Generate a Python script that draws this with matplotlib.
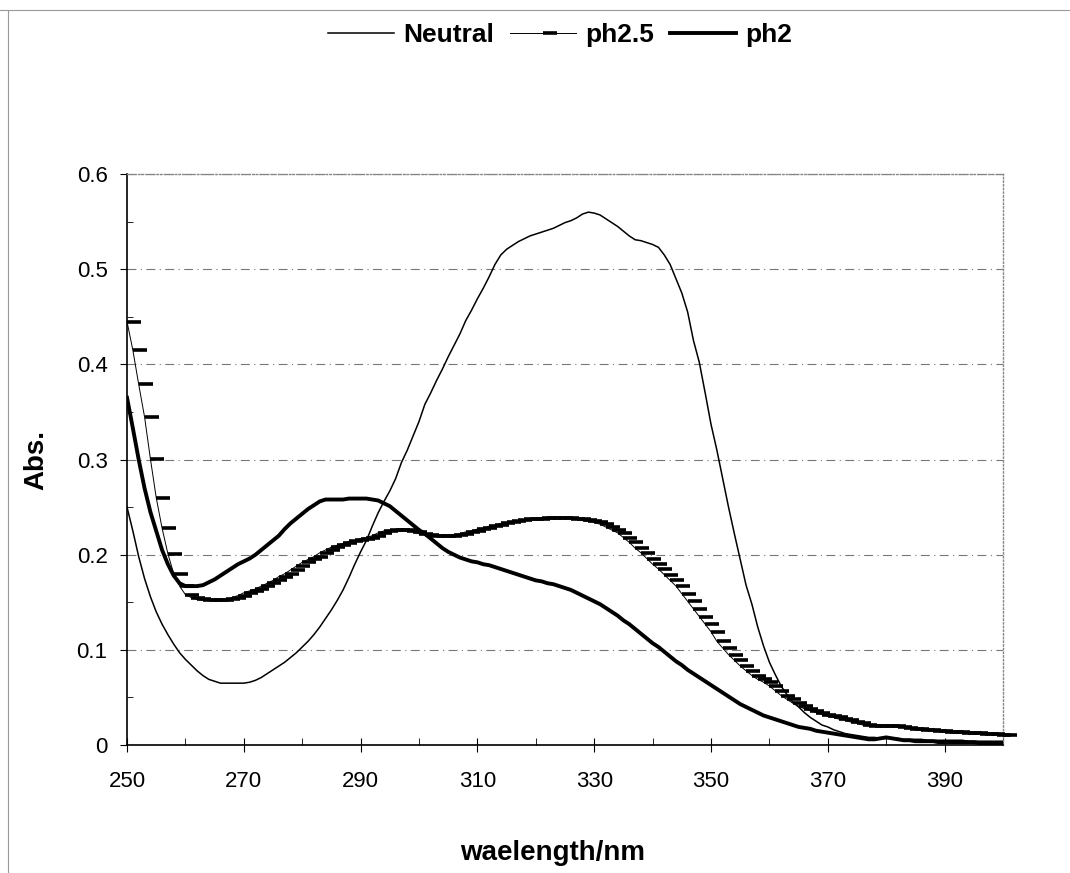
import numpy as np
import matplotlib
matplotlib.use('Agg')
import matplotlib.pyplot as plt
from matplotlib.ticker import MultipleLocator, FixedLocator
from matplotlib.lines import Line2D

plt.rcParams['font.family'] = ['Liberation Sans', 'DejaVu Sans']

# wavelength in nm, 1 nm steps
wavelength = list(range(250, 401))

neutral = [
    0.250, 0.225, 0.198, 0.175, 0.156, 0.140, 0.127, 0.116, 0.106, 0.097,  # 250-259
    0.090, 0.084, 0.078, 0.073, 0.069, 0.067, 0.065, 0.065, 0.065, 0.065,  # 260-269
    0.065, 0.066, 0.068, 0.071, 0.075, 0.079, 0.083, 0.087, 0.092, 0.097,  # 270-279
    0.103, 0.109, 0.116, 0.124, 0.133, 0.142, 0.152, 0.163, 0.176, 0.190,  # 280-289
    0.203, 0.215, 0.230, 0.244, 0.256, 0.267, 0.280, 0.297, 0.310, 0.325,  # 290-299
    0.340, 0.358, 0.370, 0.383, 0.395, 0.408, 0.420, 0.432, 0.446, 0.457,  # 300-309
    0.469, 0.480, 0.492, 0.505, 0.515, 0.521, 0.525, 0.529, 0.532, 0.535,  # 310-319
    0.537, 0.539, 0.541, 0.543, 0.546, 0.549, 0.551, 0.554, 0.558, 0.560,  # 320-329
    0.559, 0.557, 0.553, 0.549, 0.545, 0.540, 0.535, 0.531, 0.530, 0.528,  # 330-339
    0.526, 0.523, 0.515, 0.505, 0.490, 0.475, 0.455, 0.425, 0.402, 0.370,  # 340-349
    0.337, 0.310, 0.280, 0.250, 0.222, 0.195, 0.168, 0.148, 0.124, 0.104,  # 350-359
    0.087, 0.074, 0.062, 0.053, 0.045, 0.040, 0.034, 0.029, 0.025, 0.021,  # 360-369
    0.019, 0.016, 0.014, 0.012, 0.011, 0.010, 0.009, 0.008, 0.008, 0.007,  # 370-379
    0.007, 0.007, 0.007, 0.006, 0.006, 0.006, 0.006, 0.005, 0.005, 0.005,  # 380-389
    0.005, 0.005, 0.005, 0.005, 0.004, 0.004, 0.004, 0.004, 0.004, 0.004,  # 390-399
    0.004,                                                                 # 400
]

ph25 = [
    0.445, 0.415, 0.379, 0.345, 0.301, 0.260, 0.228, 0.201, 0.180, 0.167,  # 250-259
    0.158, 0.155, 0.153, 0.152, 0.152, 0.152, 0.152, 0.153, 0.155, 0.157,  # 260-269
    0.160, 0.162, 0.164, 0.167, 0.170, 0.173, 0.177, 0.180, 0.184, 0.188,  # 270-279
    0.192, 0.195, 0.198, 0.202, 0.205, 0.208, 0.210, 0.212, 0.214, 0.215,  # 280-289
    0.217, 0.218, 0.220, 0.223, 0.225, 0.226, 0.226, 0.226, 0.225, 0.224,  # 290-299
    0.222, 0.221, 0.220, 0.220, 0.220, 0.220, 0.221, 0.222, 0.224, 0.225,  # 300-309
    0.227, 0.228, 0.230, 0.231, 0.233, 0.234, 0.235, 0.236, 0.237, 0.238,  # 310-319
    0.238, 0.239, 0.239, 0.239, 0.239, 0.239, 0.238, 0.237, 0.236, 0.235,  # 320-329
    0.234, 0.232, 0.229, 0.226, 0.223, 0.218, 0.213, 0.207, 0.202, 0.196,  # 330-339
    0.190, 0.185, 0.179, 0.173, 0.167, 0.159, 0.151, 0.143, 0.135, 0.127,  # 340-349
    0.119, 0.109, 0.102, 0.095, 0.089, 0.083, 0.078, 0.073, 0.069, 0.066,  # 350-359
    0.062, 0.057, 0.052, 0.048, 0.044, 0.041, 0.038, 0.036, 0.034, 0.032,  # 360-369
    0.030, 0.029, 0.027, 0.026, 0.024, 0.023, 0.021, 0.020, 0.020, 0.020,  # 370-379
    0.020, 0.020, 0.019, 0.018, 0.017, 0.017, 0.016, 0.016, 0.015, 0.015,  # 380-389
    0.014, 0.014, 0.014, 0.013, 0.013, 0.013, 0.012, 0.012, 0.012, 0.011,  # 390-399
    0.011,                                                                 # 400
]

ph2 = [
    0.365, 0.333, 0.300, 0.270, 0.245, 0.225, 0.205, 0.190, 0.178, 0.170,  # 250-259
    0.167, 0.167, 0.167, 0.168, 0.171, 0.174, 0.178, 0.182, 0.186, 0.190,  # 260-269
    0.193, 0.196, 0.200, 0.205, 0.210, 0.215, 0.220, 0.227, 0.233, 0.238,  # 270-279
    0.243, 0.248, 0.252, 0.256, 0.258, 0.258, 0.258, 0.258, 0.259, 0.259,  # 280-289
    0.259, 0.259, 0.258, 0.257, 0.254, 0.251, 0.246, 0.241, 0.236, 0.231,  # 290-299
    0.226, 0.222, 0.217, 0.212, 0.207, 0.203, 0.200, 0.197, 0.195, 0.193,  # 300-309
    0.192, 0.190, 0.189, 0.187, 0.185, 0.183, 0.181, 0.179, 0.177, 0.175,  # 310-319
    0.173, 0.172, 0.170, 0.169, 0.167, 0.165, 0.163, 0.160, 0.157, 0.154,  # 320-329
    0.151, 0.148, 0.144, 0.140, 0.136, 0.131, 0.127, 0.122, 0.117, 0.112,  # 330-339
    0.107, 0.103, 0.098, 0.093, 0.088, 0.084, 0.079, 0.075, 0.071, 0.067,  # 340-349
    0.063, 0.059, 0.055, 0.051, 0.047, 0.043, 0.040, 0.037, 0.034, 0.031,  # 350-359
    0.029, 0.027, 0.025, 0.023, 0.021, 0.019, 0.018, 0.017, 0.015, 0.014,  # 360-369
    0.013, 0.012, 0.011, 0.010, 0.009, 0.008, 0.007, 0.006, 0.006, 0.007,  # 370-379
    0.008, 0.007, 0.006, 0.005, 0.005, 0.004, 0.004, 0.004, 0.004, 0.003,  # 380-389
    0.003, 0.003, 0.003, 0.003, 0.003, 0.003, 0.002, 0.002, 0.002, 0.002,  # 390-399
    0.002,                                                                 # 400
]

xtick_labels = [250, 270, 290, 310, 330, 350, 370, 390]
ytick_values = [0, 0.1, 0.2, 0.3, 0.4, 0.5, 0.6]


def main():
    fig = plt.figure(figsize=(10.7, 8.73), dpi=100)
    # plot area: x 127..1003 px, y 174..745 px
    ax = fig.add_axes([0.1187, 0.1466, 0.8187, 0.654])

    # dash marker that starts at the point and runs to the right (as in the scan)
    dash = [(0, 0), (1, 0)]

    ax.plot(wavelength, neutral, color='black', lw=1.1, label='Neutral', zorder=3)
    ax.plot(wavelength, ph25, color='black', lw=0.7, marker=dash, markersize=20,
            markeredgewidth=2.6, markerfacecolor='none', label='ph2.5',
            clip_on=False, zorder=4)
    ax.plot(wavelength, ph2, color='black', lw=2.8, label='ph2', zorder=3)

    ax.set_xlim(250, 400)
    ax.set_ylim(0, 0.6)
    ax.xaxis.set_major_locator(FixedLocator(xtick_labels))
    ax.xaxis.set_minor_locator(MultipleLocator(10))
    ax.set_yticks(ytick_values)
    ax.set_yticklabels(['0' if v == 0 else '%.1f' % v for v in ytick_values])
    ax.yaxis.set_minor_locator(MultipleLocator(0.05))

    ax.tick_params(axis='both', labelsize=16, color='black')
    ax.tick_params(axis='x', which='major', direction='inout', length=10, pad=14)
    ax.tick_params(axis='x', which='minor', direction='in', length=5)
    ax.tick_params(axis='y', which='major', direction='out', length=5, pad=9)
    ax.tick_params(axis='y', which='minor', direction='in', length=4)

    # dash-dot grey gridlines like the old spreadsheet chart
    ax.grid(axis='y', which='major', color='#777777', lw=0.8,
            linestyle=(0, (8, 4, 1, 4)))
    ax.set_axisbelow(True)

    for side in ['top', 'right']:
        ax.spines[side].set_color('#888888')
        ax.spines[side].set_linestyle(':')
        ax.spines[side].set_linewidth(1.0)
    ax.spines['left'].set_linewidth(1.2)
    ax.spines['bottom'].set_linewidth(1.2)

    fig.text(553 / 1070, 1 - 853 / 873, 'waelength/nm', fontsize=20, fontweight='bold',
             ha='center', va='center')
    fig.text(36 / 1070, 1 - 460 / 873, 'Abs.', fontsize=20, fontweight='bold',
             ha='center', va='center', rotation=90)

    fig.legend(loc='center', bbox_to_anchor=(560 / 1070, 1 - 35 / 873), ncol=3,
               frameon=False, handlelength=2.5, handletextpad=0.35,
               columnspacing=0.6, borderaxespad=0, borderpad=0,
               prop={'size': 19, 'weight': 'bold'})

    # scanner edge lines at the top and left of the page
    fig.add_artist(Line2D([0, 1], [1 - 10 / 873, 1 - 10 / 873], transform=fig.transFigure,
                          color='#999999', lw=0.8))
    fig.add_artist(Line2D([8 / 1070, 8 / 1070], [0, 1 - 10 / 873], transform=fig.transFigure,
                          color='#999999', lw=0.8))

    plt.savefig('out.png', dpi=100)


if __name__ == '__main__':
    main()
